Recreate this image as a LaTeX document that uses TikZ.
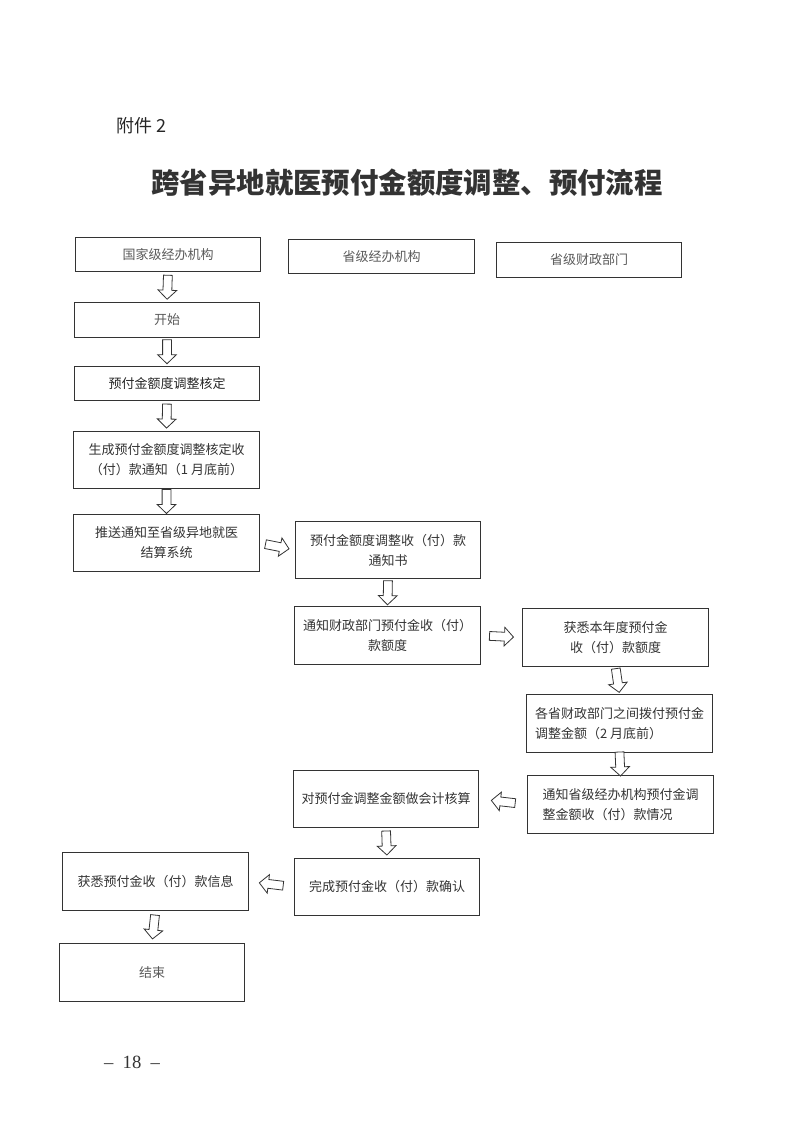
\documentclass[tikz,border=0pt]{standalone}
\usepackage{fontspec}
\setmainfont{Noto Sans CJK SC}
\newfontfamily\pagenumfont{Liberation Serif}
\usetikzlibrary{calc}

% hollow block arrow, fixed length, centred between two anchors
\newcommand{\flowarrow}[2]{%
  \draw[arrowline] let \p1=(#1), \p2=(#2),
    \n1={atan2(\y2-\y1,\x2-\x1)},
    \p3=($(\p1)!0.5!(\p2)$) in
    [shift={(\p3)}, rotate=\n1]
    (-9pt,-3.3pt) -- (2.2pt,-3.3pt) -- (2.2pt,-7pt) -- (9pt,0pt)
    -- (2.2pt,7pt) -- (2.2pt,3.3pt) -- (-9pt,3.3pt) -- cycle;
}

\tikzset{
  box/.style={draw=black!80, line width=0.6pt, minimum width=139pt,
    minimum height=43pt, inner sep=2pt, align=center, text=black!80,
    font=\fontsize{9.75}{15}\selectfont},
  headbox/.style={box, minimum height=26pt, text=black!65},
  arrowline/.style={draw=black!80, line width=0.6pt, fill=white}
}

\begin{document}
\begin{tikzpicture}[x=0.75pt,y=-0.75pt]
\useasboundingbox (0,0) rectangle (793,1121);

\node[text=black!85, font=\fontsize{13.5}{15}\selectfont] (fujian) at (141,126) {附件\hspace{3pt}2};
\node[text=black!80, font=\fontsize{21.3}{24}\selectfont\bfseries] (title) at (407,183) {跨省异地就医预付金额度调整、预付流程};

% column heads
\node[headbox] (guojia) at (168,254.5) {国家级经办机构};
\node[headbox] (shengji) at (381.5,256.5) {省级经办机构};
\node[headbox] (caizheng) at (589,260) {省级财政部门};

% national agency column
\node[headbox] (start) at (167,320) {开始};
\node[headbox, text=black!85] (heding) at (167,383.5) {预付金额度调整核定};
\node[box] (shengcheng) at (166.5,460) {生成预付金额度调整核定收\\（付）款通知（1 月底前）};
\node[box] (tuisong) at (166.5,543) {推送通知至省级异地就医\\结算系统};

% provincial agency column
\node[box] (tongzhishu) at (388,550) {预付金额度调整收（付）款\\通知书};
\node[box] (tzcaizheng) at (387.5,635.5) {通知财政部门预付金收（付）\\款额度};

% finance column
\node[box] (huoxi) at (615.5,637.5) {获悉本年度预付金\\收（付）款额度};
\node[box, align=left] (bofu) at (619.5,723.5) {各省财政部门之间拨付预付金\\调整金额（2 月底前）};
\node[box, align=left] (tzshengji) at (620.5,804.5) {通知省级经办机构预付金调\\整金额收（付）款情况};

\node[box] (kuaiji) at (386,799) {对预付金调整金额做会计核算};
\node[box] (wancheng) at (387,887) {完成预付金收（付）款确认};
\node[box] (huoxixinxi) at (155.5,881.5) {获悉预付金收（付）款信息};
\node[box, text=black!65] (jieshu) at (152,972.5) {结束};

\flowarrow{guojia.south}{start.north}
\flowarrow{start.south}{heding.north}
\flowarrow{heding.south}{shengcheng.north}
\flowarrow{shengcheng.south}{tuisong.north}
\flowarrow{tuisong.east}{tongzhishu.west}
\flowarrow{tongzhishu.south}{tzcaizheng.north}
\flowarrow{tzcaizheng.east}{huoxi.west}
\flowarrow{huoxi.south}{bofu.north}
\flowarrow{bofu.south}{tzshengji.north}
\flowarrow{tzshengji.west}{kuaiji.east}
\flowarrow{kuaiji.south}{wancheng.north}
\flowarrow{wancheng.west}{huoxixinxi.east}
\flowarrow{huoxixinxi.south}{jieshu.north}

\node[text=black!80, font=\pagenumfont\fontsize{14}{16}\selectfont] (pagenum) at (132,1062) {–\hspace{7pt}18\hspace{7pt}–};
\end{tikzpicture}
\end{document}
